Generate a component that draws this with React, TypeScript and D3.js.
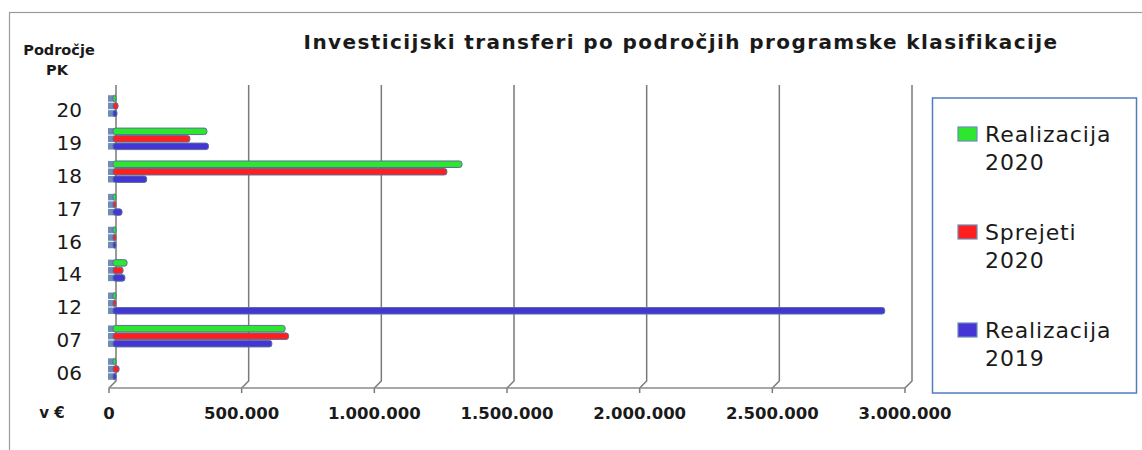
import { useEffect, useRef } from 'react';
import * as d3 from 'd3';

// categories (Področje PK), top to bottom
const categories = ['20', '19', '18', '17', '16', '14', '12', '07', '06'];
const seriesNames = ['Realizacija 2020', 'Sprejeti 2020', 'Realizacija 2019'];
const realizacija2020 = [8000, 354000, 1316000, 2000, 3000, 53000, 2000, 649000, 5000];
const sprejeti2020 = [19000, 290000, 1259000, 2000, 3000, 38000, 2000, 662000, 23000];
const realizacija2019 = [15000, 360000, 127000, 34000, 5000, 45000, 2910000, 599000, 12000];
const xTicks = [0, 500000, 1000000, 1500000, 2000000, 2500000, 3000000];

const colors = ['#2fe62f', '#ff1f1f', '#4436d4'];
const font = '"DejaVu Sans", Verdana, sans-serif';

const Chart = () => {
  const svgRef = useRef(null);

  useEffect(() => {
    const svg = d3.select(svgRef.current);
    svg.selectAll('*').remove();

    const values = [realizacija2020, sprejeti2020, realizacija2019];
    const fmt = d3.formatLocale({ decimal: ',', thousands: '.', grouping: [3], currency: ['', '€'] }).format(',d');

    // outer frame
    svg.append('rect').attr('x', 9.5).attr('y', 12.5).attr('width', 1160).attr('height', 460)
      .attr('fill', '#fff').attr('stroke', '#9a9a9a').attr('stroke-width', 1.2);

    // wall scale, floor is shifted by the 3d depth
    const xWall = d3.scaleLinear().domain([0, 3000000]).range([116, 912]);
    const xBar = d3.scaleLinear().domain([0, 3000000]).range([113, 908.6]);
    const depthX = -7;
    const depthY = 7;
    const wallTop = 85;
    const wallBottom = 381;

    const y = d3.scaleBand().domain(categories).range([93.5, 389.5]);
    const inner = d3.scaleBand().domain(seriesNames).range([0, 22.5]);

    // gridlines on the back wall bending onto the floor
    const grid = svg.append('g');
    grid.selectAll('path').data(xTicks).enter().append('path')
      .attr('d', (d) => `M${xWall(d)},${wallTop}V${wallBottom}l${depthX},${depthY}v5`)
      .attr('fill', 'none').attr('stroke', '#7a7a7a').attr('stroke-width', 1.5);
    grid.append('path')
      .attr('d', `M${xWall(0) + depthX},${wallBottom + depthY}H${xWall(3000000) + depthX}`)
      .attr('stroke', '#8a8a8a').attr('stroke-width', 1.5);

    // bars
    const bars = svg.append('g');
    seriesNames.forEach((s, si) => {
      const g = bars.append('g');
      const rows = categories.map((c, i) => ({ c, v: values[si][i] }));
      const yPos = (d) => y(d.c) + y.bandwidth() / 2 - 4 - 11.25 + inner(s);
      g.selectAll('rect.side').data(rows).enter().append('rect')
        .attr('class', 'side')
        .attr('x', 108).attr('y', (d) => yPos(d) + 0.5)
        .attr('width', 6).attr('height', inner.bandwidth() - 1)
        .attr('fill', '#6d8cb8');
      g.selectAll('rect.bar').data(rows).enter().append('rect')
        .attr('class', 'bar')
        .attr('x', xBar(0)).attr('y', (d) => yPos(d) + 0.5)
        .attr('width', (d) => Math.max(3, xBar(d.v) - xBar(0))).attr('height', inner.bandwidth() - 1)
        .attr('rx', 2.5)
        .attr('fill', colors[si]).attr('stroke', '#56709c').attr('stroke-width', 1);
    });

    // category labels
    svg.append('g').selectAll('text').data(categories).enter().append('text')
      .attr('x', 82).attr('y', (d) => y(d) + y.bandwidth() / 2 + 7)
      .attr('text-anchor', 'end').attr('font-family', font).attr('font-size', 20).attr('fill', '#1a1a1a')
      .text((d) => d);

    svg.append('text').attr('x', 59).attr('y', 55).attr('text-anchor', 'middle')
      .attr('font-family', font).attr('font-weight', 'bold').attr('font-size', 14.5).attr('fill', '#1a1a1a')
      .text('Področje');
    svg.append('text').attr('x', 57).attr('y', 75).attr('text-anchor', 'middle')
      .attr('font-family', font).attr('font-weight', 'bold').attr('font-size', 14.5).attr('fill', '#1a1a1a')
      .text('PK');

    // x tick labels
    svg.append('g').selectAll('text').data(xTicks).enter().append('text')
      .attr('x', (d) => xWall(d) + depthX).attr('y', 419)
      .attr('text-anchor', 'middle').attr('font-family', font).attr('font-weight', 'bold')
      .attr('font-size', 16.5).attr('fill', '#1a1a1a')
      .text((d) => fmt(d));
    svg.append('text').attr('x', 52).attr('y', 418).attr('text-anchor', 'middle')
      .attr('font-family', font).attr('font-weight', 'bold').attr('font-size', 15).attr('fill', '#1a1a1a')
      .text('v €');

    // title
    svg.append('text').attr('x', 681).attr('y', 49).attr('text-anchor', 'middle')
      .attr('font-family', font).attr('font-weight', 'bold').attr('font-size', 20)
      .attr('letter-spacing', 1.4).attr('fill', '#1a1a1a')
      .text('Investicijski transferi po področjih programske klasifikacije');

    // legend
    const legend = svg.append('g');
    legend.append('rect').attr('x', 932.5).attr('y', 98).attr('width', 204).attr('height', 295)
      .attr('fill', '#fff').attr('stroke', '#4f7cc0').attr('stroke-width', 1.5);
    seriesNames.forEach((s, i) => {
      const cy = 134 + i * 98;
      legend.append('rect').attr('x', 958).attr('y', cy - 7).attr('width', 19).attr('height', 14)
        .attr('fill', colors[i]).attr('stroke', '#6d8cb8').attr('stroke-width', 1.2);
      const parts = s.split(' ');
      parts.forEach((p, j) => {
        legend.append('text').attr('x', 985).attr('y', cy + 8 + j * 28)
          .attr('font-family', font).attr('font-size', 22).attr('letter-spacing', 0.9).attr('fill', '#1a1a1a')
          .text(p);
      });
    });
  }, []);

  return <svg ref={svgRef} width={1142} height={450} style={{ position: 'absolute', left: 0, top: 0, display: 'block' }}></svg>;
};

export default function App() {
  return <Chart />;
}
